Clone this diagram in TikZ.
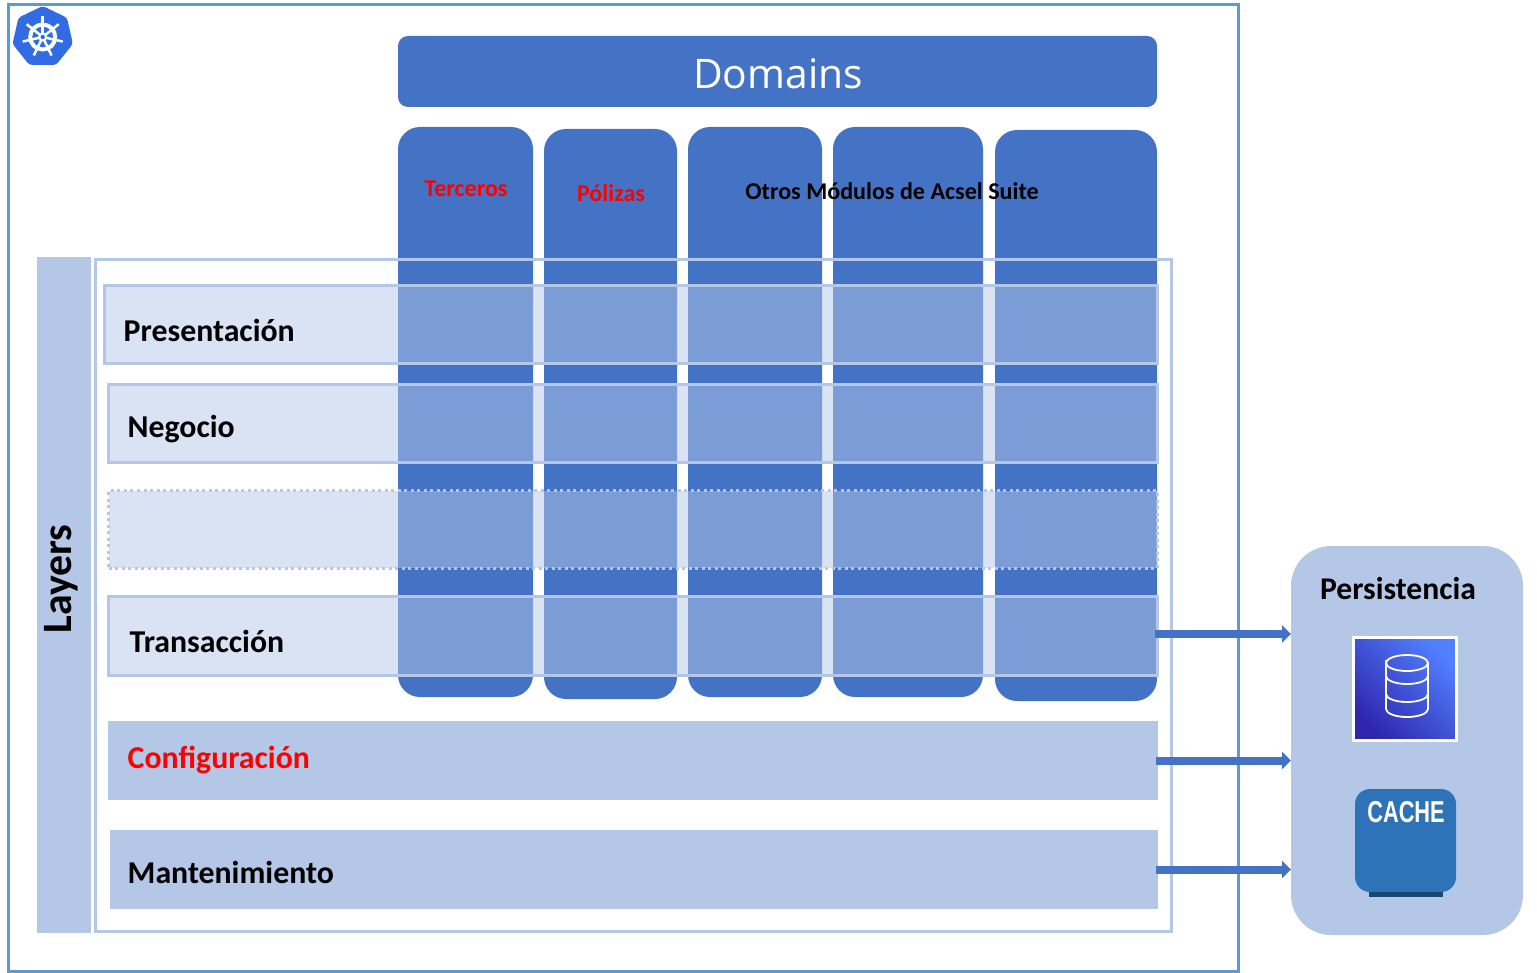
\documentclass[tikz,border=0pt]{standalone}
\usepackage{fontspec}
\setmainfont{Carlito}
\newfontfamily\cachefont[FakeStretch=0.72]{Liberation Sans}
\newfontfamily\domainfont{Open Sans}
\usetikzlibrary{shapes.geometric,shadows,arrows.meta}

\definecolor{azul}{HTML}{4472C4}
\definecolor{celeste}{HTML}{B4C7E7}
\definecolor{marco}{HTML}{5B9BD5}
\definecolor{kube}{HTML}{326CE5}
\definecolor{baseclaro}{HTML}{527FFF}
\definecolor{baseoscuro}{HTML}{2E27AD}
\definecolor{cacheazul}{HTML}{2E73B8}
\definecolor{cachefondo}{HTML}{19486F}

\tikzset{
	caja/.style={inner sep=0pt, outer sep=0pt},
	columna/.style={caja, fill=azul, rounded corners=0.22cm},
	capa/.style={caja, draw=celeste, line width=0.03cm, fill=celeste, fill opacity=0.5},
	capafija/.style={caja, fill=celeste},
	marcobox/.style={caja, line width=0.025cm},
	titulo/.style={font=\fontsize{9.05}{11}\selectfont\bfseries, anchor=west, inner sep=0pt},
	modulo/.style={font=\fontsize{6.85}{8}\selectfont\bfseries, inner sep=0pt},
	flecha/.style={draw=azul, line width=0.08cm, -{Triangle[length=0.09cm,width=0.17cm]}},
}

\begin{document}
\begin{tikzpicture}

	\useasboundingbox (0,0) rectangle (15.37,9.72);

	% marcos
	\node[marcobox, draw=marco, minimum width=12.30cm, minimum height=9.67cm] (nCluster) at (6.235,4.84) {};
	\node[capafija, minimum width=0.54cm, minimum height=6.76cm] (nLayers) at (0.64,3.77) {};
	\node[rotate=90, font=\fontsize{11.9}{13}\selectfont\bfseries, inner sep=0pt] (tLayers) at (0.61,3.93) {Layers};

	% dominios
	\node[caja, fill=azul, rounded corners=0.1cm, minimum width=7.59cm, minimum height=0.71cm] (nDomains) at (7.775,9.005) {};
	\node[text=white, font=\fontsize{11.6}{14}\domainfont, inner sep=0pt] (tDomains) at (7.78,8.98) {Domains};
	\node[columna, minimum width=1.35cm, minimum height=5.70cm] (nTerceros) at (4.655,5.60) {};
	\node[columna, minimum width=1.33cm, minimum height=5.70cm] (nPolizas) at (6.105,5.58) {};
	\node[columna, minimum width=1.34cm, minimum height=5.70cm] (nOtrosA) at (7.55,5.60) {};
	\node[columna, minimum width=1.50cm, minimum height=5.70cm] (nOtrosB) at (9.08,5.60) {};
	\node[columna, minimum width=1.62cm, minimum height=5.71cm] (nOtrosC) at (10.76,5.565) {};
	\node[modulo, text=red] (tTerceros) at (4.66,7.83) {Terceros};
	\node[modulo, text=red] (tPolizas) at (6.11,7.79) {Pólizas};
	\node[modulo] (tOtros) at (8.92,7.81) {Otros Módulos de Acsel Suite};

	% capas
	\node[marcobox, draw=celeste, minimum width=10.76cm, minimum height=6.72cm] (nInterno) at (6.335,3.765) {};
	\node[capa, minimum width=10.525cm, minimum height=0.775cm] (nPresentacion) at (6.31,6.475) {};
	\node[capa, minimum width=10.485cm, minimum height=0.775cm] (nNegocio) at (6.33,5.485) {};
	\node[capa, densely dotted, minimum width=10.485cm, minimum height=0.775cm] (nVacia) at (6.33,4.425) {};
	\node[capa, minimum width=10.485cm, minimum height=0.785cm] (nTransaccion) at (6.33,3.36) {};
	\node[capafija, minimum width=10.50cm, minimum height=0.79cm] (nConfiguracion) at (6.33,2.115) {};
	\node[capafija, minimum width=10.48cm, minimum height=0.79cm] (nMantenimiento) at (6.34,1.025) {};
	\node[titulo] (tPresentacion) at (1.23,6.42) {Presentación};
	\node[titulo] (tNegocio) at (1.27,5.43) {Negocio};
	\node[titulo] (tTransaccion) at (1.29,3.31) {Transacción};
	\node[titulo, text=red] (tConfiguracion) at (1.27,2.12) {Configuración};
	\node[titulo] (tMantenimiento) at (1.27,1.00) {Mantenimiento};

	% persistencia
	\node[capafija, rounded corners=0.4cm, minimum width=2.32cm, minimum height=3.89cm] (nPersistencia) at (14.07,2.315) {};
	\node[font=\fontsize{9}{11}\selectfont\bfseries, inner sep=0pt] (tPersistencia) at (13.98,3.83) {Persistencia};
	\draw[flecha] ([xshift=-0.02cm,yshift=0.02cm]nTransaccion.east) -- ([yshift=0.02cm]nTransaccion.east -| nPersistencia.west);
	\draw[flecha] ([xshift=-0.02cm]nConfiguracion.east) -- (nConfiguracion.east -| nPersistencia.west);
	\draw[flecha] ([xshift=-0.02cm]nMantenimiento.east) -- (nMantenimiento.east -| nPersistencia.west);

	% base de datos
	\node[caja, draw=white, line width=0.03cm, minimum size=1.03cm, bottom color=baseoscuro, top color=baseclaro, shading angle=-45, drop shadow={shadow xshift=0cm, shadow yshift=-0.015cm, opacity=0.35}] (nBase) at (14.05,2.83) {};
	\draw[white, line width=0.018cm] (nBase.center) ++(-0.19,0.26) arc (180:-180:0.21 and 0.08)
		-- ++(0,-0.46) arc (180:360:0.21 and 0.08) -- ++(0,0.46);
	\draw[white, line width=0.018cm] (nBase.center) ++(-0.19,0.13) arc (180:360:0.21 and 0.08);
	\draw[white, line width=0.018cm] (nBase.center) ++(-0.19,-0.05) arc (180:360:0.21 and 0.08);

	% cache
	\node[caja, fill=cacheazul, rounded corners=0.15cm, minimum width=1.01cm, minimum height=1.03cm] (nCache) at (14.055,1.315) {};
	\node[caja, anchor=north, fill=cachefondo, minimum width=0.74cm, minimum height=0.05cm] (nCacheBase) at (nCache.south) {};
	\node[font=\fontsize{8.6}{10}\cachefont\bfseries, text=white, inner sep=0pt] (tCache) at (14.06,1.595) {CACHE};

	% logo
	\node[regular polygon, regular polygon sides=7, fill=kube, inner sep=0pt, minimum size=0.62cm, rounded corners=0.03cm] (nKube) at (0.427,9.35) {};
	\draw[white, line width=0.04cm] (nKube.center) circle [radius=0.125];
	\foreach \a in {0,...,6}
		\draw[white, line width=0.025cm] (nKube.center) -- ++(90+\a*360/7:0.205);
	\fill[white] (nKube.center) circle [radius=0.045];
	\fill[kube] (nKube.center) circle [radius=0.022];

\end{tikzpicture}
\end{document}
